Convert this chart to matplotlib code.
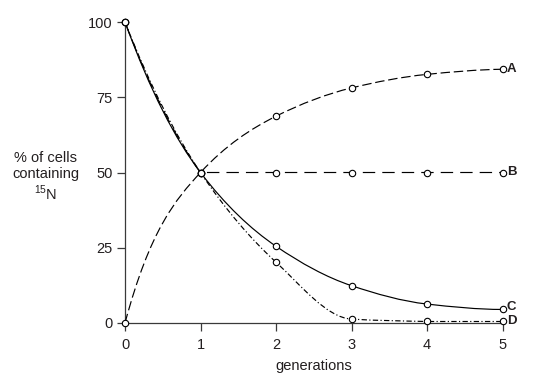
import numpy as np
import matplotlib
matplotlib.use('Agg')
import matplotlib.pyplot as plt
from matplotlib.path import Path
from matplotlib.patches import PathPatch

plt.rcParams['font.family'] = ['Liberation Sans', 'DejaVu Sans']
plt.rcParams['mathtext.fontset'] = 'custom'
plt.rcParams['mathtext.rm'] = 'Liberation Sans'

# ---- data ----
generations = [0, 1, 2, 3, 4, 5]
series_A = [0, 50, 68.7, 78.1, 82.6, 84.3]
series_B = [100, 50, 50, 50, 50, 50]
series_C = [100, 50, 25.5, 12.4, 6.3, 4.5]
series_D = [100, 50, 20.2, 1.3, 0.5, 0.5]
series_labels = ['A', 'B', 'C', 'D']
y_ticks = [0, 25, 50, 75, 100]
x_ticks = [0, 1, 2, 3, 4, 5]
x_label = 'generations'
y_label = '% of cells\ncontaining\n$^{15}$N'

TEXT = '#231f20'
AXC = '#3a3a3a'

# ---- drawing styles (curve tension at the start, dash patterns, label nudges) ----
styles = {
    'A': dict(ls=(0, (8, 3.2)), start_k=1.9, label_dy=0.5),
    'B': dict(ls=(0, (10.5, 6)), start_k=1.1, label_dy=0.5),
    'C': dict(ls='-', start_k=1.1, label_dy=2.0),
    'D': dict(ls=(0, (4.5, 2, 1, 2)), start_k=1.1, label_dy=0.3),
}


def tangents(x, y, start_k=1.0, corner_k=0.7):
    x = np.asarray(x, float); y = np.asarray(y, float)
    n = len(x)
    d = np.diff(y) / np.diff(x)
    mL = np.zeros(n); mR = np.zeros(n)
    for i in range(1, n - 1):
        if d[i - 1] * d[i] > 0:
            m = 2.0 / (1.0 / d[i - 1] + 1.0 / d[i])
            mL[i] = mR[i] = m
        else:
            mL[i] = corner_k * d[i - 1]
            mR[i] = corner_k * d[i]
    m0 = d[0] + start_k * (d[0] - mL[1])
    if m0 * d[0] <= 0:
        m0 = 0.0
    m0 = np.sign(m0) * min(abs(m0), 3 * abs(d[0]))
    mR[0] = m0
    mn = (3 * d[-1] - d[-2]) / 2
    if mn * d[-1] <= 0:
        mn = 0.0
    mL[-1] = mn
    return mL, mR


def smooth_path(x, y, start_k):
    mL, mR = tangents(x, y, start_k)
    verts = [(x[0], y[0])]
    codes = [Path.MOVETO]
    for i in range(len(x) - 1):
        h = x[i + 1] - x[i]
        verts += [(x[i] + h / 3, y[i] + mR[i] * h / 3),
                  (x[i + 1] - h / 3, y[i + 1] - mL[i + 1] * h / 3),
                  (x[i + 1], y[i + 1])]
        codes += [Path.CURVE4] * 3
    return Path(verts, codes)


fig = plt.figure(figsize=(5.35, 3.86), dpi=100)
ax = fig.add_axes([125 / 535, 63 / 386, 377.5 / 535, 301 / 386])

all_series = [series_A, series_B, series_C, series_D]
for lab, ys in zip(series_labels, all_series):
    st = styles[lab]
    p = PathPatch(smooth_path(generations, ys, st['start_k']), fill=False,
                  edgecolor='black', lw=0.85, linestyle=st['ls'],
                  clip_on=False, zorder=3)
    ax.add_patch(p)
    ax.plot(generations, ys, linestyle='none', marker='o', mfc='white',
            mec='black', ms=4.6, mew=0.8, clip_on=False, zorder=5)
    ax.annotate(lab, xy=(generations[-1], ys[-1]), xytext=(3.2, st['label_dy']),
                textcoords='offset points', ha='left', va='center',
                fontweight='bold', fontsize=9.5, color=TEXT)

ax.set_xlim(0, 5)
ax.set_ylim(0, 100)
ax.set_xticks(x_ticks)
ax.set_yticks(y_ticks)
for s in ['top', 'right']:
    ax.spines[s].set_visible(False)
for s in ['left', 'bottom']:
    ax.spines[s].set_color(AXC)
    ax.spines[s].set_linewidth(0.9)
ax.tick_params(direction='out', length=6, width=0.9, color=AXC,
               labelsize=10.5, labelcolor=TEXT)
ax.tick_params(axis='y', pad=3)
ax.tick_params(axis='x', pad=5)
ax.set_xlabel(x_label, fontsize=10.5, color=TEXT, labelpad=5)
fig.text(46 / 535, 1 - 177 / 386, y_label, ha='center', va='center',
         fontsize=10.5, color=TEXT, linespacing=1.15)
ax.patch.set_visible(False)

fig.savefig('out.png', dpi=100)
